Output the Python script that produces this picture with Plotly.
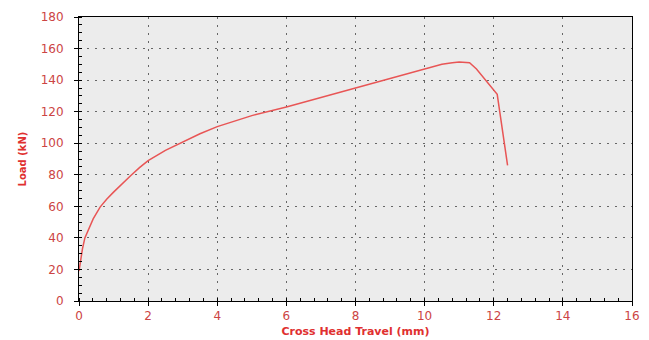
import plotly.graph_objects as go

travel_mm = [0, 0.05, 0.1, 0.17, 0.3, 0.41, 0.61, 0.8, 1.0, 1.25, 1.5, 1.75, 2.0, 2.5, 3.0, 3.5, 4.0, 5.0, 6.0, 7.0, 8.0, 9.0, 10.0, 10.5, 10.8, 11.0, 11.3, 11.5, 12.1, 12.4]
load_kN = [19, 27, 33, 40, 47, 52, 59.5, 64.5, 69, 74.5, 79.5, 84.5, 89, 95.5, 101, 106, 110.5, 117.5, 123, 129, 135, 141, 147, 150, 151, 151.5, 151, 147, 131, 86]

x_ticks = [0, 2, 4, 6, 8, 10, 12, 14, 16]
y_ticks = [0, 20, 40, 60, 80, 100, 120, 140, 160, 180]

red = "#cc4444"
fig = go.Figure()
fig.add_trace(go.Scatter(x=travel_mm, y=load_kN, mode="lines",
                         line=dict(color="#e85555", width=1.5),
                         showlegend=False))

fig.update_layout(
    width=649, height=340,
    margin=dict(l=71, r=25, t=9, b=47),
    paper_bgcolor="white", plot_bgcolor="#ececec",
    font=dict(family="DejaVu Sans", size=12, color=red),
)
common = dict(
    showline=True, linecolor="black", linewidth=1, mirror=True,
    ticks="outside", ticklen=4, tickcolor="black",
    showgrid=True, gridcolor="#666666", griddash="2px,6px", gridwidth=1,
    zeroline=False, automargin=False,
)
fig.update_xaxes(
    range=[0, 16], tickvals=x_ticks, ticktext=[str(v) for v in x_ticks],
    minor=dict(dtick=0.4, ticks="inside", ticklen=3, tickcolor="black", showgrid=False),
    title=dict(text="<b>Cross Head Travel (mm)</b>", font=dict(size=11, color="#e03030"), standoff=4),
    tickfont=dict(size=12, color=red), **common,
)
fig.update_yaxes(
    range=[0, 180], tickvals=y_ticks, ticktext=[str(v) for v in y_ticks],
    minor=dict(dtick=5, ticks="inside", ticklen=3, tickcolor="black", showgrid=False),
    ticklabelstandoff=8,
    title=dict(text="<b>Load (kN)</b>", font=dict(size=10, color="#e03030"), standoff=12),
    tickfont=dict(size=12, color=red), **common,
)
fig.write_html("out.html")
